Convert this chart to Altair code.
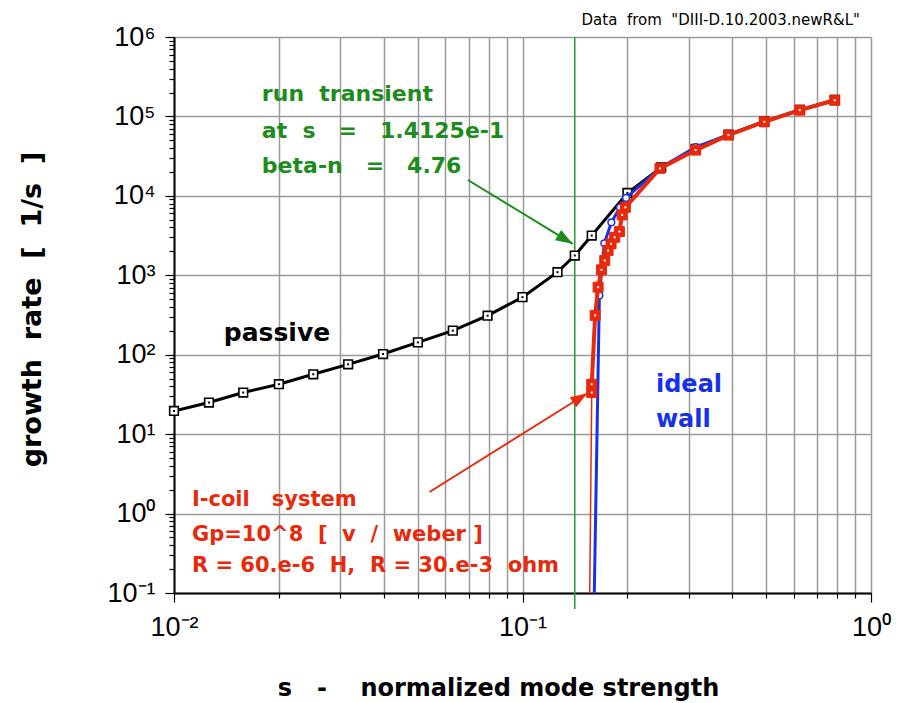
import altair as alt
import pandas as pd

NB = "\u00a0"  # non-breaking space keeps the wide gaps in SVG text

# ---- data -------------------------------------------------------------
# passive wall (no feedback)
passive_s = [0.01, 0.0126, 0.0158, 0.02, 0.0251, 0.0316, 0.0398, 0.0501, 0.0631,
             0.0794, 0.1, 0.126, 0.14125, 0.158, 0.2, 0.25, 0.314, 0.39, 0.494,
             0.625, 0.787]
passive_g = [19.6, 25, 33.4, 42.5, 56.7, 75.7, 102, 143, 201, 310, 531, 1094,
             1774, 3162, 10870, 22800, 39000, 59000, 86500, 121000, 161000]

# ideal wall
ideal_s = [0.1607, 0.1662, 0.1717, 0.1799, 0.1905, 0.1982, 0.248, 0.314, 0.39,
           0.494, 0.625, 0.787]
ideal_g = [0.1, 557, 2530, 4640, 7160, 9420, 22500, 41000, 58800, 86000,
           120500, 160000]

# I-coil feedback system
icoil_s = [0.158, 0.158, 0.1616, 0.1648, 0.1685, 0.1722, 0.176, 0.1795, 0.1839,
           0.1897, 0.1931, 0.1973, 0.248, 0.314, 0.39, 0.494, 0.625, 0.787]
icoil_g = [33.4, 42.5, 313, 708, 1172, 1535, 2050, 2490, 3010, 3550, 5750, 7170,
           22200, 37700, 58200, 85500, 120000, 160000]
icoil_tail_s = [0.158, 0.1559]
icoil_tail_g = [33.4, 0.1]

# transient run position
transient_s = [0.14125]

# annotation arrows: tail -> head
green_arrow_s = [0.0697, 0.1393]
green_arrow_g = [15840, 2490]
red_arrow_s = [0.0541, 0.1535]
red_arrow_g = [1.87, 32.7]

# annotation texts
green_lines = ["run  transient", "at  s   =   1.4125e-1", "beta-n   =   4.76"]
green_text_g = [192000, 66000, 24000]
green_text_s = 0.01787
red_lines = ["I-coil   system", "Gp=10^8  [  v  /  weber ]", "R = 60.e-6  H,  R = 30.e-3  ohm"]
red_text_g = [1.48, 0.538, 0.22]
red_text_s = 0.01126
blue_lines = ["ideal", "wall"]
blue_text_g = [41.3, 15.0]
blue_text_s = 0.2415
passive_label = ["passive"]
passive_label_s = [0.0139]
passive_label_g = [190]

x_title = "s   -    normalized mode strength"
y_title = "growth  rate  [  1/s  ]"
chart_title = 'Data  from  "DIII-D.10.2003.newR&L"'

x_ticks = [a * 10.0 ** e for e in (-2, -1) for a in range(1, 10)] + [1.0]
y_ticks = [a * 10.0 ** e for e in range(-1, 6) for a in range(1, 10)] + [1e6]

GREEN = "#1c8c1c"
RED = "#e8290c"
BLUE = "#1632e6"
GRID = "#9a9a9a"


def nb(t):
    return t.replace(" ", NB)


# ---- frames -----------------------------------------------------------
def frame(s, g):
    return pd.DataFrame({"s": s, "g": g, "i": list(range(len(s)))})

df_passive = frame(passive_s, passive_g)
df_ideal = frame(ideal_s, ideal_g)
df_icoil = frame(icoil_s, icoil_g)
df_tail = frame(icoil_tail_s, icoil_tail_g)
df_garrow = frame(green_arrow_s, green_arrow_g)
df_rarrow = frame(red_arrow_s, red_arrow_g)

# ---- axes -------------------------------------------------------------
dec = "abs(log(datum.value)/LN10 - round(log(datum.value)/LN10)) < 0.001"
ex = "round(log(datum.value)/LN10)"
label_expr = (f"({dec}) ? '10' + ({ex} < 0 ? '\u207b' : '') + "
              f"substring('\u2070\u00b9\u00b2\u00b3\u2074\u2075\u2076\u2077\u2078\u2079', abs({ex}), abs({ex}) + 1) : ''")

common_axis = dict(
    labelExpr=label_expr,
    labelOverlap=False,
    labelFlush=False,
    labelFont="Liberation Sans",
    labelFontSize=27,
    labelColor="black",
    domainColor="black",
    domainWidth=2,
    tickColor="black",
    tickWidth=1.2,
    tickSize={"condition": {"test": dec, "value": 9}, "value": 5},
    titleFont="DejaVu Sans",
    titleFontWeight="bold",
    titleColor="black",
    titleBaseline="middle",
    gridColor=GRID,
    gridWidth=1.5,
)

x_axis = alt.Axis(values=x_ticks, labelPadding=12, titleX=324, titleY=95,
                  titleFontSize=24, **common_axis)
y_axis = alt.Axis(values=y_ticks, labelPadding=10, titleX=-142, titleY=272,
                  titleFontSize=27,
                  gridOpacity={"condition": {"test": dec, "value": 1}, "value": 0},
                  **common_axis)

X = alt.X("s:Q", scale=alt.Scale(type="log", domain=[0.01, 1]), axis=x_axis,
          title=nb(x_title))
Y = alt.Y("g:Q", scale=alt.Scale(type="log", domain=[0.1, 1e6]), axis=y_axis,
          title=nb(y_title))
O = alt.Order("i:Q")

# ---- layers -----------------------------------------------------------
transient_rule = alt.Chart(pd.DataFrame({"s": transient_s})).mark_rule(
    color="#2a9a2a", strokeWidth=1.5
).encode(x=X, y=alt.value(0), y2=alt.value(572))

passive_line = alt.Chart(df_passive).mark_line(color="black", strokeWidth=3, clip=True).encode(x=X, y=Y, order=O)
passive_pts = alt.Chart(df_passive).mark_point(
    shape="square", size=75, filled=True, fill="white", stroke="black", strokeWidth=1.6, opacity=1
).encode(x=X, y=Y)
passive_dots = alt.Chart(df_passive).mark_square(size=4, color="black", opacity=1).encode(x=X, y=Y)

ideal_line = alt.Chart(df_ideal).mark_line(color=BLUE, strokeWidth=3, clip=True).encode(x=X, y=Y, order=O)
ideal_pts = alt.Chart(df_ideal).transform_filter("datum.g > 1").mark_point(
    shape="circle", size=45, filled=True, fill="white", stroke=BLUE, strokeWidth=1.5, opacity=1
).encode(x=X, y=Y)

tail_line = alt.Chart(df_tail).mark_line(color=RED, strokeWidth=1.5, clip=True).encode(x=X, y=Y, order=O)
icoil_line = alt.Chart(df_icoil).mark_line(color=RED, strokeWidth=4, clip=True).encode(x=X, y=Y, order=O)
icoil_pts = alt.Chart(df_icoil).mark_point(
    shape="square", size=100, filled=True, fill=RED, stroke=RED, strokeWidth=1, opacity=1
).encode(x=X, y=Y)
icoil_dots = alt.Chart(df_icoil).mark_square(size=4, color="white", opacity=1).encode(x=X, y=Y)

arrow_head = "M0,0L0.6,1.7L-0.6,1.7Z"
garrow_line = alt.Chart(df_garrow).mark_line(color=GREEN, strokeWidth=2).encode(x=X, y=Y, order=O)
garrow_head = alt.Chart(df_garrow).transform_filter("datum.i == 1").mark_point(
    shape=arrow_head, size=400, filled=True, color=GREEN, opacity=1, angle=121
).encode(x=X, y=Y)
rarrow_line = alt.Chart(df_rarrow).mark_line(color=RED, strokeWidth=2).encode(x=X, y=Y, order=O)
rarrow_head = alt.Chart(df_rarrow).transform_filter("datum.i == 1").mark_point(
    shape=arrow_head, size=400, filled=True, color=RED, opacity=1, angle=58
).encode(x=X, y=Y)


def text_layer(lines, s, g, color, size, weight="bold"):
    df = pd.DataFrame({"t": [nb(t) for t in lines],
                       "s": s if isinstance(s, list) else [s] * len(lines), "g": g})
    return alt.Chart(df).mark_text(
        align="left", baseline="middle", font="DejaVu Sans", fontSize=size,
        fontWeight=weight, color=color
    ).encode(x=X, y=Y, text="t:N")


green_text = text_layer(green_lines, green_text_s, green_text_g, GREEN, 22)
red_text = text_layer(red_lines, red_text_s, red_text_g, RED, 21)
blue_text = text_layer(blue_lines, blue_text_s, blue_text_g, BLUE, 24)
passive_text = text_layer(passive_label, passive_label_s, passive_label_g, "black", 25)

chart = alt.layer(
    transient_rule,
    passive_line, passive_pts, passive_dots,
    ideal_line, ideal_pts,
    tail_line, icoil_line, icoil_pts, icoil_dots,
    garrow_line, garrow_head, rarrow_line, rarrow_head,
    green_text, red_text, blue_text, passive_text,
).properties(
    width=697,
    height=556,
    autosize=alt.AutoSizeParams(type="none"),
    padding={"left": 174, "top": 37, "right": 28, "bottom": 110},
    title=alt.TitleParams(
        nb(chart_title), anchor="end", frame="group", font="DejaVu Sans",
        fontSize=15, fontWeight="normal", color="black", dx=-11, dy=14, offset=9
    ),
).configure_view(
    stroke="black", strokeWidth=2
).configure(background="white")

chart.save("out.html", embed_options={"renderer": "svg", "actions": False})
